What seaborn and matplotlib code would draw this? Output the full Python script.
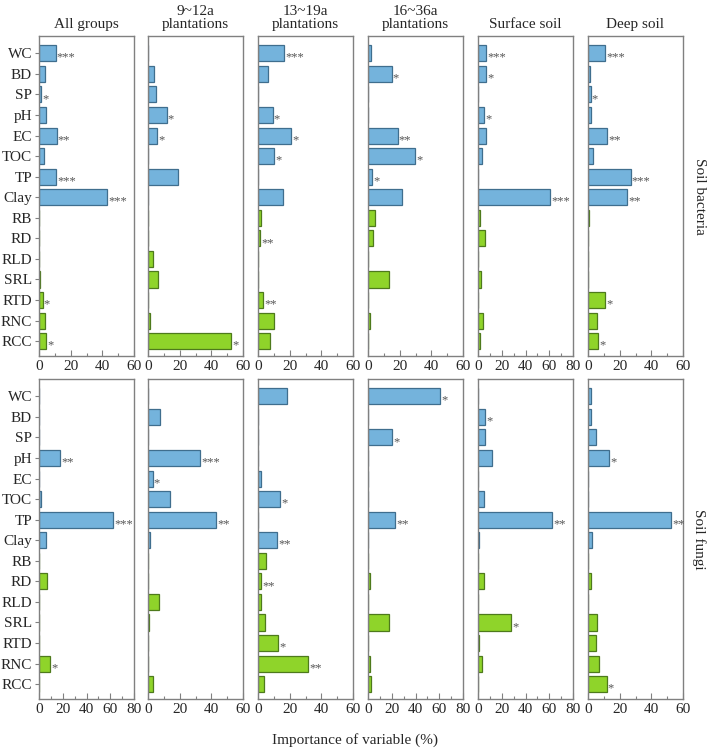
import matplotlib
matplotlib.use("Agg")
import matplotlib.pyplot as plt
from matplotlib import font_manager
import seaborn as sns
import numpy as np
import pandas as pd
import os

sns.set_theme(style="white")


def pick_serif():
    names = {f.name for f in font_manager.fontManager.ttflist}
    for n in ["Liberation Serif", "Tinos", "Times New Roman", "Nimbus Roman", "TeX Gyre Termes",
              "STIX Two Text", "STIXGeneral"]:
        if n in names:
            return n
    lname = {n.lower(): n for n in names}
    for key in ["liberation serif", "tinos", "times", "termes", "nimbus roman"]:
        for ln, n in lname.items():
            if key in ln:
                return n
    try:
        files = font_manager.findSystemFonts()
    except Exception:
        files = []
    for key in ["liberationserif-regular", "tinos-regular", "times", "termes", "nimbusroman"]:
        for p in files:
            if key in os.path.basename(p).lower():
                try:
                    font_manager.fontManager.addfont(p)
                    return font_manager.FontProperties(fname=p).get_name()
                except Exception:
                    pass
    return "DejaVu Serif"


_serif = pick_serif()
plt.rcParams['font.family'] = [_serif, 'DejaVu Serif']

variables = ["WC", "BD", "SP", "pH", "EC", "TOC", "TP", "Clay",
             "RB", "RD", "RLD", "SRL", "RTD", "RNC", "RCC"]
soil_vars = ["WC", "BD", "SP", "pH", "EC", "TOC", "TP", "Clay"]
groups = ["All groups", "9~12a\nplantations", "13~19a\nplantations",
          "16~36a\nplantations", "Surface soil", "Deep soil"]
row_labels = ["Soil bacteria", "Soil fungi"]

# Soil bacteria
bac_all = [10.5, 3.5, 1.2, 4.2, 11.1, 3.1, 10.7, 42.9, 0, 0, 0, 0.8, 2.3, 3.8, 4.4]
bac_9_12 = [0, 3.6, 5.3, 11.8, 5.7, 0, 19.2, 0.3, 0, 0, 3.4, 6.5, 0, 1.5, 52.4]
bac_13_19 = [16.6, 6.5, 0, 9.3, 21.1, 10.3, 0, 16.0, 2.1, 1.3, 0, 0.2, 3.4, 10.3, 7.6]
bac_16_36 = [2.1, 15.0, 0, 0, 18.7, 29.9, 2.7, 21.7, 4.2, 3.2, 0, 13.5, 0, 1.5, 0]
bac_surface = [7.0, 7.0, 0, 5.3, 7.0, 3.7, 0, 60.6, 1.4, 6.2, 0, 2.5, 0, 4.5, 1.4]
bac_deep = [10.7, 1.5, 1.7, 2.1, 12.0, 3.2, 27.0, 24.6, 0.8, 0, 0, 0, 11.0, 5.7, 6.3]

bac_all_sig = ["***", "", "*", "", "**", "", "***", "***", "", "", "", "", "*", "", "*"]
bac_9_12_sig = ["", "", "", "*", "*", "", "", "", "", "", "", "", "", "", "*"]
bac_13_19_sig = ["***", "", "", "*", "*", "*", "", "", "", "**", "", "", "**", "", ""]
bac_16_36_sig = ["", "*", "", "", "**", "*", "*", "", "", "", "", "", "", "", ""]
bac_surface_sig = ["***", "*", "", "*", "", "", "", "***", "", "", "", "", "", "", ""]
bac_deep_sig = ["***", "", "*", "", "**", "", "***", "**", "", "", "", "", "*", "", "*"]

# Soil fungi
fun_all = [0.2, 0, 0, 18.0, 0, 1.4, 62.3, 5.9, 0, 6.7, 0, 0, 0.4, 9.3, 0]
fun_9_12 = [0, 7.8, 0, 33.1, 3.0, 14.1, 43.2, 1.0, 0, 0, 7.2, 0.6, 0, 0, 3.2]
fun_13_19 = [18.3, 0, 0, 0, 1.7, 14.1, 0, 12.2, 4.8, 1.9, 2.1, 4.6, 12.8, 31.8, 3.8]
fun_16_36 = [60.9, 0, 20.2, 0, 0, 0, 23.0, 0, 0, 2.0, 0, 17.4, 0, 2.0, 2.8]
fun_surface = [0, 5.9, 5.6, 11.8, 0, 5.1, 62.6, 0.5, 0, 4.8, 0, 28.1, 0.9, 3.4, 0]
fun_deep = [1.7, 1.9, 5.1, 13.3, 0, 0, 52.6, 2.5, 0, 2.1, 0, 5.7, 5.1, 7.2, 11.8]

fun_all_sig = ["", "", "", "**", "", "", "***", "", "", "", "", "", "", "*", ""]
fun_9_12_sig = ["", "", "", "***", "*", "", "**", "", "", "", "", "", "", "", ""]
fun_13_19_sig = ["", "", "", "", "", "*", "", "**", "", "**", "", "", "*", "**", ""]
fun_16_36_sig = ["*", "", "*", "", "", "", "**", "", "", "", "", "", "", "", ""]
fun_surface_sig = ["", "*", "", "", "", "", "**", "", "", "", "", "*", "", "", ""]
fun_deep_sig = ["", "", "", "*", "", "", "**", "", "", "", "", "", "", "", "*"]

values = [[bac_all, bac_9_12, bac_13_19, bac_16_36, bac_surface, bac_deep],
          [fun_all, fun_9_12, fun_13_19, fun_16_36, fun_surface, fun_deep]]
sigs = [[bac_all_sig, bac_9_12_sig, bac_13_19_sig, bac_16_36_sig, bac_surface_sig, bac_deep_sig],
        [fun_all_sig, fun_9_12_sig, fun_13_19_sig, fun_16_36_sig, fun_surface_sig, fun_deep_sig]]
xmax = [[60, 60, 60, 60, 80, 60],
        [80, 60, 60, 80, 80, 60]]

blue = "#74b3dc"
blue_edge = "#3f6e8e"
green = "#8fd42a"
green_edge = "#4e7a1c"

W, H = 709, 748
fig = plt.figure(figsize=(W / 100, H / 100), dpi=100)

col_left = [39, 148, 258, 368, 478, 588]
col_w = 95
row_top = [36, 379]
row_h = 320

spine_col = "#808080"
is_times = _serif != "DejaVu Serif"
fs = 11 if is_times else 9.5

for r in range(2):
    for c in range(6):
        ax = fig.add_axes([col_left[c] / W, 1 - (row_top[r] + row_h) / H,
                           col_w / W, row_h / H])
        vals = values[r][c]
        df = pd.DataFrame({"var": variables, "val": vals,
                           "kind": ["soil" if v in soil_vars else "root" for v in variables]})
        sns.barplot(data=df, x="val", y="var", hue="kind", orient="h",
                    palette={"soil": blue, "root": green}, order=variables,
                    hue_order=["soil", "root"], dodge=False, width=0.78,
                    saturation=1, legend=False, ax=ax, linewidth=0.9)
        for patch in ax.patches:
            idx = int(round(patch.get_y() + patch.get_height() / 2))
            if 0 <= idx < len(variables):
                patch.set_edgecolor(blue_edge if variables[idx] in soil_vars else green_edge)
        for i, (v, s) in enumerate(zip(vals, sigs[r][c])):
            if s:
                ax.text(v + xmax[r][c] * 0.012, i + 0.22, s, ha="left", va="center",
                        fontsize=9, color="#555555")
        ax.set_xlim(0, xmax[r][c])
        ax.set_ylim(14.72, -0.84)
        ax.set_xlabel("")
        ax.set_ylabel("")
        ax.set_xticks(np.arange(0, xmax[r][c] + 1, 20))
        ax.set_xticks(np.arange(10, xmax[r][c], 20), minor=True)
        ax.tick_params(axis="x", which="major", direction="in", length=4, width=0.8,
                       color=spine_col, labelsize=fs, pad=3, bottom=True)
        ax.tick_params(axis="x", which="minor", direction="in", length=2.5, width=0.8,
                       color=spine_col, bottom=True)
        if c == 0:
            ax.tick_params(axis="y", direction="out", length=3, width=0.8,
                           color=spine_col, labelsize=fs, left=True, pad=2)
        else:
            ax.set_yticks([])
        for sp in ax.spines.values():
            sp.set_color(spine_col)
            sp.set_linewidth(1.0)
        if r == 0:
            ax.set_title(groups[c], fontsize=fs, pad=6, linespacing=0.95)
        if c == 5:
            ax.text(1.17, 0.5, row_labels[r], transform=ax.transAxes, rotation=270,
                    ha="center", va="center", fontsize=fs)

fig.text(0.5, 1 - 740 / H, "Importance of variable (%)", ha="center", va="center",
         fontsize=fs)

fig.savefig("out.png", dpi=100)
